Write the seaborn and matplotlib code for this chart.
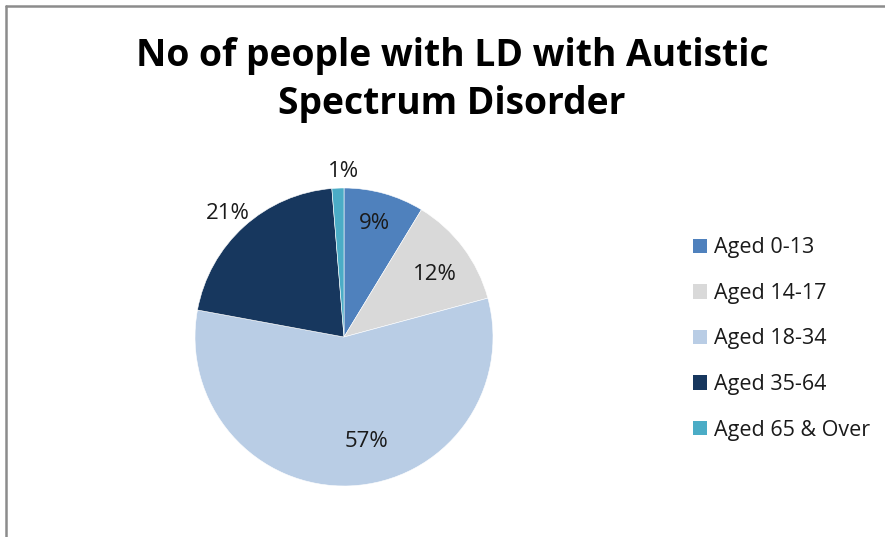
import numpy as np
import matplotlib
matplotlib.use("Agg")
import matplotlib.pyplot as plt
from matplotlib.lines import Line2D
import seaborn as sns

sns.set_theme(style="white")
plt.rcParams['font.family'] = ['Open Sans', 'DejaVu Sans']

categories = ["Aged 0-13", "Aged 14-17", "Aged 18-34", "Aged 35-64", "Aged 65 & Over"]
values = [8.7, 12.1, 57.1, 20.8, 1.3]
colors = ["#4F81BD", "#D9D9D9", "#B9CDE5", "#17375E", "#4BACC6"]
label_radius = [0.79, 0.74, 0.72, 1.14, 1.11]
label_angle_shift = [0.5, -2.3, 10.0, 1.2, -2.0]
title = "No of people with LD with Autistic\nSpectrum Disorder"

fig = plt.figure(figsize=(8.85, 5.37), dpi=100)
fig.patch.set_facecolor("white")

# pie axes: center (344,337) px, radius 149 px
W, H = 885, 537
cx, cy, r = 344, 337, 149
ax = fig.add_axes([(cx - r) / W, 1 - (cy + r) / H, 2 * r / W, 2 * r / H])
wedges, _ = ax.pie(values, colors=colors, startangle=90, counterclock=False,
                   radius=1.0, wedgeprops=dict(linewidth=0.4, edgecolor="white"))
ax.set_xlim(-1, 1)
ax.set_ylim(-1, 1)
ax.set_aspect("equal")
ax.axis("off")

total = sum(values)
for w, v, lr, da in zip(wedges, values, label_radius, label_angle_shift):
    ang = np.deg2rad((w.theta1 + w.theta2) / 2 + da)
    ax.text(lr * np.cos(ang), lr * np.sin(ang), f"{v / total * 100:.0f}%",
            ha="center", va="center", fontsize=16, color="#1a1a1a", clip_on=False)

fig.text(452 / W, 1 - 80 / H, title, ha="center", va="center", fontsize=26.8,
         fontweight="bold", color="black", linespacing=1.32)

handles = [plt.Rectangle((0, 0), 1, 1, facecolor=c, edgecolor="none") for c in colors]
fig.legend(handles, categories, loc="center left",
           bbox_to_anchor=(693 / W, 1 - 339 / H), frameon=False,
           fontsize=15.5, handlelength=0.66, handleheight=0.66,
           handletextpad=0.3, labelspacing=1.14, borderaxespad=0,
           borderpad=0, labelcolor="#1a1a1a")

# border lines (top and left)
fig.add_artist(Line2D([6 / W, 1.0], [1 - 6 / H, 1 - 6 / H], transform=fig.transFigure,
                      color="#8c8c8c", linewidth=1.8))
fig.add_artist(Line2D([6 / W, 6 / W], [0, 1 - 6 / H], transform=fig.transFigure,
                      color="#8c8c8c", linewidth=1.8))

fig.savefig("out.png", dpi=100, facecolor="white")
